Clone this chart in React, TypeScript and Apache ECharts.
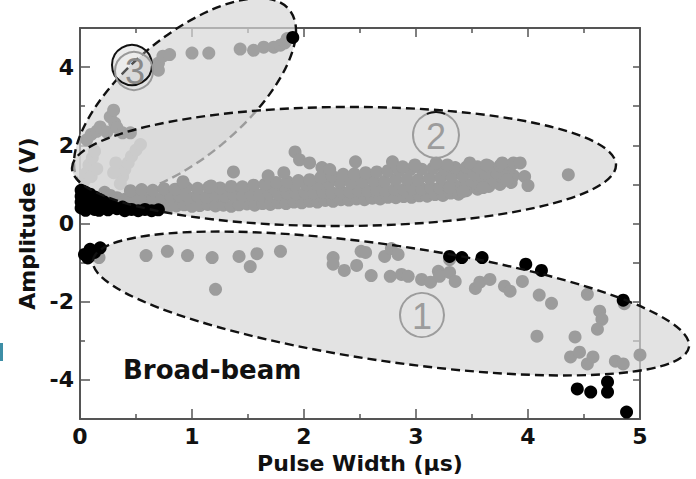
import React, { useEffect, useRef } from 'react';
import * as echarts from 'echarts';

const FONT = '"DejaVu Sans", "Liberation Sans", sans-serif';

// ---- data (Pulse width µs, Amplitude V) ----
const xTicks = [0, 1, 2, 3, 4, 5];
const yMajorTicks = [-4, -2, 0, 2, 4];
const yMinorTicks = [-3, -1, 1, 3];

const bandBottom = [
  [0.30, 0.46], [0.37, 0.43], [0.44, 0.45], [0.51, 0.42], [0.58, 0.46], [0.65, 0.44], [0.72, 0.47], [0.79, 0.43],
  [0.86, 0.45], [0.93, 0.48], [1.00, 0.44], [1.07, 0.46], [1.14, 0.49], [1.21, 0.45], [1.28, 0.47], [1.35, 0.44],
  [1.42, 0.48], [1.49, 0.50], [1.56, 0.47], [1.63, 0.51], [1.70, 0.49], [1.77, 0.53], [1.84, 0.51], [1.91, 0.55],
  [1.98, 0.53], [2.05, 0.57], [2.12, 0.55], [2.19, 0.59], [2.26, 0.57], [2.33, 0.61], [2.40, 0.60], [2.47, 0.63],
  [2.54, 0.61], [2.61, 0.65], [2.68, 0.63], [2.75, 0.67], [2.82, 0.66], [2.89, 0.69], [2.96, 0.67], [3.03, 0.71],
  [3.10, 0.70], [3.17, 0.74], [3.24, 0.72], [3.31, 0.78], [3.38, 0.75], [3.45, 0.84], [3.55, 0.88], [3.65, 0.95],
  [3.75, 1.00], [3.85, 1.05],
];
const bandMidLow = [
  [0.33, 0.66], [0.41, 0.63], [0.49, 0.67], [0.57, 0.64], [0.65, 0.68], [0.73, 0.65], [0.81, 0.69], [0.89, 0.70],
  [0.97, 0.67], [1.05, 0.71], [1.13, 0.68], [1.21, 0.72], [1.29, 0.70], [1.37, 0.73], [1.45, 0.71], [1.53, 0.74],
  [1.61, 0.73], [1.69, 0.76], [1.77, 0.75], [1.85, 0.77], [1.93, 0.76], [2.01, 0.79], [2.09, 0.78], [2.17, 0.80],
  [2.25, 0.79], [2.33, 0.82], [2.41, 0.81], [2.49, 0.84], [2.57, 0.83], [2.65, 0.86], [2.73, 0.85], [2.81, 0.88],
  [2.89, 0.87], [2.97, 0.90], [3.05, 0.89], [3.13, 0.92], [3.21, 0.91], [3.29, 0.94], [3.37, 0.95], [3.45, 1.00],
  [3.53, 1.04], [3.61, 1.08], [3.69, 1.12], [3.77, 1.17], [3.87, 1.22],
];
const bandMidHigh = [
  [1.72, 0.94], [1.82, 0.97], [1.92, 0.99], [2.02, 1.01], [2.12, 1.00], [2.22, 1.03], [2.32, 1.05], [2.42, 1.04],
  [2.52, 1.07], [2.62, 1.09], [2.72, 1.08], [2.82, 1.12], [2.92, 1.13], [3.02, 1.12], [3.12, 1.16], [3.22, 1.17],
  [3.32, 1.19], [3.42, 1.22], [3.52, 1.25], [3.62, 1.28], [3.72, 1.30], [3.82, 1.33],
];
const bandTop = [
  [0.22, 0.80], [0.27, 0.72], [0.45, 0.84], [0.55, 0.87], [0.65, 0.85], [0.75, 0.89], [0.85, 0.88], [0.95, 0.92],
  [1.05, 0.90], [1.15, 0.93], [1.25, 0.91], [1.35, 0.95], [1.45, 0.94], [1.55, 0.98], [1.65, 1.00], [1.75, 1.05],
  [1.85, 1.07], [1.95, 1.10], [2.05, 1.12], [2.15, 1.18], [2.25, 1.22], [2.35, 1.26], [2.45, 1.27], [2.55, 1.30],
  [2.65, 1.32], [2.75, 1.35], [2.85, 1.36], [2.95, 1.38], [3.05, 1.39], [3.15, 1.41], [3.25, 1.40], [3.35, 1.43],
  [3.45, 1.44], [3.55, 1.45], [3.65, 1.47], [3.75, 1.48], [3.85, 1.50],
];
const bandOutliers = [
  [0.92, 1.07], [1.17, 0.96], [1.37, 1.32], [1.68, 1.22], [1.82, 1.30], [1.92, 1.83], [1.96, 1.63], [2.05, 1.55],
  [2.16, 1.43], [2.23, 1.38], [2.46, 1.58], [2.79, 1.58], [2.88, 1.45], [2.99, 1.50], [3.18, 1.55], [3.28, 1.50],
  [3.48, 1.55], [3.63, 1.50], [3.77, 1.55], [3.87, 1.55], [3.93, 1.55], [3.97, 1.20], [4.00, 0.97], [3.81, 1.12],
  [3.60, 0.92], [3.42, 0.82], [3.30, 0.92], [4.36, 1.25],
];
const fadedPoints = [
  [0.04, 1.10], [0.06, 1.30], [0.08, 1.50], [0.11, 1.68], [0.13, 1.85], [0.10, 1.20], [0.15, 1.40], [0.36, 1.02],
  [0.38, 1.20], [0.40, 1.38], [0.43, 1.55], [0.46, 1.72], [0.50, 1.88], [0.54, 2.02], [0.30, 1.30], [0.32, 1.55],
];
const upperCluster = [
  [0.06, 2.14], [0.10, 2.28], [0.15, 2.36], [0.18, 2.47], [0.24, 2.34], [0.27, 2.73], [0.30, 2.90], [0.31, 2.57],
  [0.33, 2.45], [0.38, 2.32], [0.45, 2.32],
];
const upperRow = [
  [0.70, 3.92], [0.70, 4.10], [0.74, 4.28], [0.80, 4.32], [1.00, 4.36], [1.15, 4.36], [1.43, 4.46], [1.55, 4.43],
  [1.64, 4.51], [1.73, 4.51], [1.79, 4.56], [1.83, 4.62], [1.85, 4.73],
];
const negativeGray = [
  [0.17, -0.87], [0.59, -0.82], [0.78, -0.71], [0.96, -0.82], [1.18, -0.87], [1.21, -1.68], [1.42, -0.84], [1.52, -1.10],
  [1.58, -0.77], [1.79, -0.71], [2.26, -0.87], [2.26, -1.04], [2.36, -1.20], [2.47, -1.07], [2.51, -0.71], [2.55, -0.74],
  [2.60, -1.33], [2.72, -0.84], [2.78, -0.64], [2.84, -0.79], [2.77, -1.35], [2.87, -1.30], [2.93, -1.35], [3.05, -1.43],
  [3.13, -1.50], [3.20, -1.22], [3.21, -1.35], [3.30, -1.25], [3.35, -1.48], [3.30, -0.92], [3.53, -1.66], [3.57, -1.50],
  [3.66, -1.43], [3.79, -1.60], [3.84, -1.73], [3.95, -1.48], [4.10, -1.83], [4.21, -2.04], [4.53, -1.81], [4.64, -2.24],
  [4.66, -2.45], [4.62, -2.70], [4.42, -2.90], [4.08, -2.88], [4.38, -3.41], [4.46, -3.29], [4.53, -3.59], [4.58, -3.41],
  [4.78, -3.52], [4.85, -3.59], [5.00, -3.36], [4.86, -2.05],
];
const blackPoints = [
  [0.01, 0.85], [0.01, 0.70], [0.01, 0.55], [0.01, 0.40], [0.05, 0.80], [0.05, 0.63], [0.05, 0.47], [0.05, 0.34],
  [0.09, 0.75], [0.09, 0.58], [0.09, 0.42], [0.13, 0.68], [0.13, 0.52], [0.13, 0.36], [0.17, 0.62], [0.17, 0.46],
  [0.17, 0.34], [0.21, 0.56], [0.21, 0.40], [0.25, 0.50], [0.25, 0.35], [0.29, 0.45], [0.33, 0.38], [0.38, 0.42],
  [0.40, 0.33], [0.46, 0.36], [0.52, 0.33], [0.58, 0.36], [0.64, 0.33], [0.70, 0.35],
  [0.04, -0.79], [0.09, -0.66], [0.13, -0.74], [0.18, -0.62], [0.07, -0.88],
  [3.30, -0.84], [3.41, -0.87], [3.59, -0.87], [3.98, -1.04], [4.12, -1.20], [4.85, -1.96],
  [4.44, -4.23], [4.56, -4.31], [4.71, -4.05], [4.71, -4.31], [4.88, -4.82], [1.90, 4.76],
];

const AX = '#555';
const labelStyle = { fontFamily: FONT, fontWeight: 'bold' as const, fontSize: 22, color: '#111' };

const dash = { fill: 'none', stroke: '#111', lineWidth: 2.4, lineDash: [9, 5] };
const ellFill = 'rgba(215,215,215,0.7)';
const ell = (x: number, y: number, rx: number, ry: number, rot: number, style: any, z: number) => ({
  type: 'ellipse', x, y, rotation: rot, shape: { cx: 0, cy: 0, rx, ry }, style, z, silent: true,
});
const numText = (x: number, y: number, t: string, color: string) => ({
  type: 'text', x, y, z: 6, silent: true,
  style: {
    text: t, fill: color, fontSize: 36, fontFamily: '"Liberation Sans", sans-serif',
    textAlign: 'center', textVerticalAlign: 'middle', align: 'center', verticalAlign: 'middle',
  },
});

const scatter = (data: number[][], color: string, z = 3) => ({
  type: 'scatter', data, symbolSize: 13, z, silent: true,
  itemStyle: { color, opacity: 1 },
});

const option: any = {
  animation: false,
  backgroundColor: '#fff',
  grid: { left: 80, right: 56, top: 28, bottom: 59 },
  xAxis: [
    {
      type: 'value', min: 0, max: 5, interval: 1, position: 'bottom',
      axisLine: { show: true, onZero: false, lineStyle: { color: AX, width: 2 } },
      axisTick: { show: true, inside: true, length: 10, customValues: xTicks, lineStyle: { color: AX, width: 1.5 } },
      minorTick: { show: true, splitNumber: 2, length: 5, lineStyle: { color: AX, width: 1.5 } },
      axisLabel: { ...labelStyle, margin: 6, customValues: xTicks },
      splitLine: { show: false },
      name: 'Pulse Width (µs)', nameLocation: 'middle', nameGap: 30,
      nameTextStyle: { ...labelStyle },
    },
    {
      type: 'value', min: 0, max: 5, interval: 1, position: 'top',
      axisLine: { show: true, onZero: false, lineStyle: { color: AX, width: 2 } },
      axisTick: { show: true, inside: true, length: 9, lineStyle: { color: AX, width: 1.5 } },
      minorTick: { show: true, splitNumber: 2, length: 5, lineStyle: { color: AX, width: 1.5 } },
      axisLabel: { show: false }, splitLine: { show: false },
    },
  ],
  yAxis: [
    {
      type: 'value', min: -5, max: 5, interval: 1, position: 'left',
      axisLine: { show: true, onZero: false, lineStyle: { color: AX, width: 2 } },
      axisTick: { show: true, inside: true, length: 10, customValues: yMajorTicks, lineStyle: { color: AX, width: 1.5 } },
      axisLabel: { ...labelStyle, margin: 6, customValues: yMajorTicks },
      splitLine: { show: false },
      name: 'Amplitude (V)', nameLocation: 'middle', nameGap: 32, nameRotate: 90,
      nameTextStyle: { ...labelStyle },
    },
    {
      type: 'value', min: -5, max: 5, interval: 1, position: 'left', offset: 0,
      axisLine: { show: false },
      axisTick: { show: true, inside: true, length: 5, customValues: yMinorTicks, lineStyle: { color: AX, width: 1.5 } },
      axisLabel: { show: false }, splitLine: { show: false },
    },
    {
      type: 'value', min: -5, max: 5, interval: 1, position: 'right',
      axisLine: { show: true, onZero: false, lineStyle: { color: AX, width: 2 } },
      axisTick: { show: true, inside: true, length: 7, lineStyle: { color: AX, width: 1.5 } },
      axisLabel: { show: false }, splitLine: { show: false },
    },
  ],
  series: [
    scatter(fadedPoints, '#cbcbcb'),
    scatter(upperCluster, '#a3a3a3'),
    scatter(upperRow, '#a0a0a0'),
    scatter(negativeGray, '#9c9c9c'),
    scatter(bandBottom, '#9a9a9a'),
    scatter(bandMidLow, '#9a9a9a'),
    scatter(bandMidHigh, '#9a9a9a'),
    scatter(bandTop, '#9a9a9a'),
    scatter(bandOutliers, '#9a9a9a'),
    scatter(blackPoints, '#000', 3.5),
  ],
  graphic: [
    // ellipse 3 (upper-left, tilted)
    ell(185, 97, 136, 60, 0.70, { fill: ellFill }, 1),
    ell(185, 97, 136, 60, 0.70, { ...dash }, 1),
    // ellipse 2 (middle)
    ell(344, 166.5, 272, 59.5, 0.006, { fill: ellFill }, 2),
    // ellipse 1 (lower)
    ell(391, 303.5, 301, 58, -0.145, { fill: ellFill }, 2),
    ell(344, 166.5, 272, 59.5, 0.006, { ...dash }, 4),
    ell(391, 303.5, 301, 58, -0.145, { ...dash }, 4),
    // numbered markers
    { type: 'circle', shape: { cx: 422, cy: 315, r: 22 }, style: { fill: 'none', stroke: '#9c9c9c', lineWidth: 2 }, z: 6, silent: true },
    numText(422, 316, '1', '#9c9c9c'),
    { type: 'circle', shape: { cx: 436, cy: 135, r: 23 }, style: { fill: 'none', stroke: '#9c9c9c', lineWidth: 2 }, z: 6, silent: true },
    { type: 'arc', shape: { cx: 436, cy: 135, r: 23, startAngle: -Math.PI * 0.63, endAngle: -Math.PI * 0.37 }, style: { fill: 'none', stroke: '#111', lineWidth: 2 }, z: 6, silent: true },
    numText(436, 136, '2', '#9c9c9c'),
    { type: 'circle', shape: { cx: 132, cy: 65, r: 20 }, style: { fill: 'rgba(200,200,200,0.35)', stroke: '#111', lineWidth: 2 }, z: 6, silent: true },
    { type: 'circle', shape: { cx: 134, cy: 71, r: 19 }, style: { fill: 'none', stroke: '#999', lineWidth: 2 }, z: 6, silent: true },
    numText(135, 71, '3', '#8a8a8a'),
    {
      type: 'text', x: 123, y: 370, z: 6, silent: true,
      style: {
        text: 'Broad-beam', fill: '#111', fontSize: 26, fontWeight: 'bold', fontFamily: FONT,
        textAlign: 'left', textVerticalAlign: 'middle', align: 'left', verticalAlign: 'middle',
      },
    },
    { type: 'rect', shape: { x: 0, y: 343, width: 3, height: 18 }, style: { fill: '#3d8ea6' }, z: 6, silent: true },
  ],
};

export default function App() {
  const ref = useRef<HTMLDivElement>(null);
  useEffect(() => {
    if (!ref.current) return;
    const chart = echarts.init(ref.current, null, { renderer: 'svg' });
    chart.setOption(option);
    return () => chart.dispose();
  }, []);
  return (
    <div
      ref={ref}
      style={{ position: 'fixed', left: 0, top: 0, width: 696, height: 479, background: '#fff' }}
    />
  );
}
